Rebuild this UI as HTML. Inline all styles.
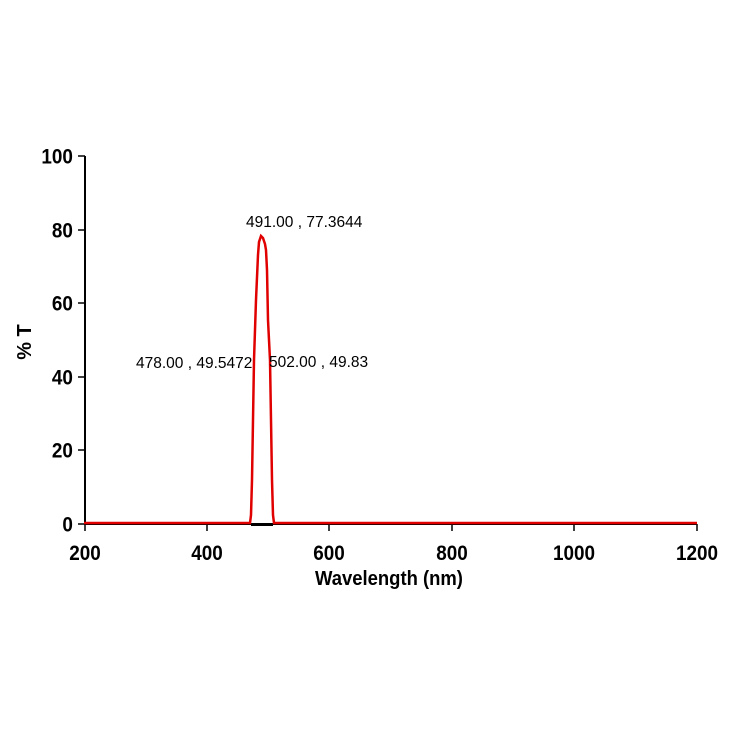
<!DOCTYPE html>
<html><head><style>html,body{margin:0;padding:0;background:#fff;width:750px;height:750px;overflow:hidden}</style></head>
<body>
<svg width="750" height="750" viewBox="0 0 750 750" xmlns="http://www.w3.org/2000/svg">
<g font-family="Liberation Sans, Arial, sans-serif">
<line x1="85" y1="156" x2="85" y2="525" stroke="#000" stroke-width="2"/>
<line x1="84" y1="524" x2="697" y2="524" stroke="#000" stroke-width="2"/>
<g stroke="#000" stroke-width="1.5">
<line x1="78" y1="156" x2="85" y2="156"/><line x1="78" y1="230" x2="85" y2="230"/>
<line x1="78" y1="303" x2="85" y2="303"/><line x1="78" y1="377" x2="85" y2="377"/>
<line x1="78" y1="450" x2="85" y2="450"/><line x1="78" y1="524" x2="85" y2="524"/>
<line x1="85" y1="524" x2="85" y2="531"/><line x1="207" y1="524" x2="207" y2="531"/>
<line x1="329" y1="524" x2="329" y2="531"/><line x1="452" y1="524" x2="452" y2="531"/>
<line x1="574" y1="524" x2="574" y2="531"/><line x1="697" y1="524" x2="697" y2="531"/>
</g>
<g font-size="21" font-weight="bold" text-anchor="end" transform="scale(0.9,1)">
<text x="81" y="163.5">100</text><text x="81" y="237.5">80</text><text x="81" y="310.5">60</text>
<text x="81" y="384.5">40</text><text x="81" y="457.5">20</text><text x="81" y="531.5">0</text>
</g>
<g font-size="21" font-weight="bold" text-anchor="middle">
<text x="85" y="560" transform="translate(8.5,0) scale(0.9,1)">200</text>
<text x="207" y="560" transform="translate(20.7,0) scale(0.9,1)">400</text>
<text x="329" y="560" transform="translate(32.9,0) scale(0.9,1)">600</text>
<text x="452" y="560" transform="translate(45.2,0) scale(0.9,1)">800</text>
<text x="574" y="560" transform="translate(57.4,0) scale(0.9,1)">1000</text>
<text x="697" y="560" transform="translate(69.7,0) scale(0.9,1)">1200</text>
<text x="389" y="585" font-size="20.5" transform="translate(38.9,0) scale(0.9,1)">Wavelength (nm)</text>
<text x="0" y="0" font-size="20" transform="translate(31,342) rotate(-90)">% T</text>
</g>
<path d="M84,523 L250,523 L251,515 L252,480 L253,420 L254,360 L256,300 L258,255 L259,242 L261,236 L263,238 L265,244 L266,250 L267,270 L268,320 L270,360 L271,420 L272,480 L273,515 L274,523 L697,523" fill="none" stroke="#e00000" stroke-width="2.5"/>
<line x1="251" y1="525" x2="273" y2="525" stroke="#000" stroke-width="2"/>
<g font-size="15.5" fill="#000">
<text x="246" y="227">491.00 , 77.3644</text>
<text x="136" y="368">478.00 , 49.5472</text>
<text x="269" y="367">502.00 , 49.83</text>
</g>
</g>
</svg>
</body></html>
